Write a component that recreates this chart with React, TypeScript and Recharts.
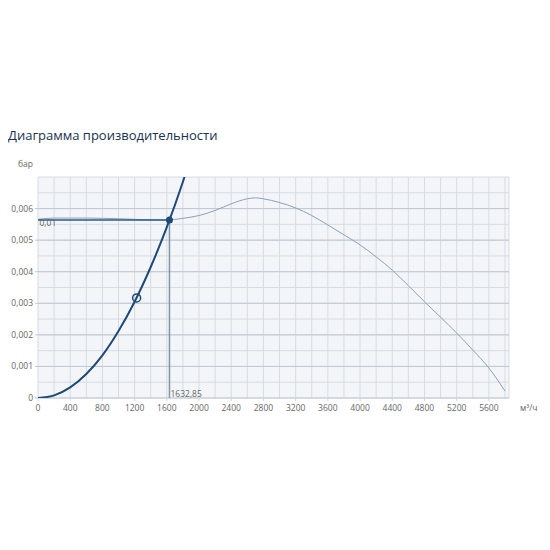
import React from "react";
import {
  ComposedChart,
  Line,
  XAxis,
  YAxis,
  CartesianGrid,
  ReferenceDot,
} from "recharts";

const xTicks = [0, 400, 800, 1200, 1600, 2000, 2400, 2800, 3200, 3600, 4000, 4400, 4800, 5200, 5600];
const yTicks = [0, 0.001, 0.002, 0.003, 0.004, 0.005, 0.006];
const xGrid = [0, 200, 400, 600, 800, 1000, 1200, 1400, 1600, 1800, 2000, 2200, 2400, 2600, 2800, 3000, 3200, 3400, 3600, 3800, 4000, 4200, 4400, 4600, 4800, 5000, 5200, 5400, 5600, 5800, 5850];
const yGrid = [0, 0.0005, 0.001, 0.0015, 0.002, 0.0025, 0.003, 0.0035, 0.004, 0.0045, 0.005, 0.0055, 0.006, 0.0065, 0.007];

const fanFlow = [0, 200, 400, 600, 800, 1000, 1200, 1400, 1600, 1800, 2000, 2200, 2400, 2600, 2700, 2800, 3000, 3200, 3400, 3600, 3800, 4000, 4200, 4400, 4600, 4800, 5000, 5200, 5400, 5600, 5800];
const fanPressure = [0.00566, 0.0057, 0.0057, 0.0057, 0.00569, 0.00568, 0.00566, 0.00564, 0.00564, 0.00569, 0.00578, 0.00594, 0.00615, 0.00631, 0.00634, 0.00631, 0.00619, 0.00602, 0.00578, 0.00548, 0.00517, 0.00485, 0.00447, 0.00405, 0.00356, 0.00305, 0.00256, 0.00206, 0.00152, 0.00095, 0.00022];

const sysFlow = [0, 200, 400, 600, 800, 1000, 1200, 1400, 1600, 1800, 1900];
const sysPressure = [0, 0.0000846, 0.000338, 0.000761, 0.00135, 0.00212, 0.00305, 0.00415, 0.00541, 0.00685, 0.00764];

const workFlow = 1632.85;
const workPressure = 0.00564;
const markFlow = 1225;
const markPressure = 0.00317;

const fanData = fanFlow.map((x, i) => ({ x, y: fanPressure[i] }));
const sysData = sysFlow.map((x, i) => ({ x, y: sysPressure[i] }));
const hLine = [{ x: 0, y: workPressure }, { x: workFlow, y: workPressure }];
const vLine = [{ x: workFlow, y: 0 }, { x: workFlow, y: workPressure }];

const FONT = "'Open Sans', 'Noto Sans', sans-serif";
const fmtY = (v: number) => (v === 0 ? "0" : v.toFixed(3).replace(".", ","));

const X_MAX = 5850;
const Y_MAX = 0.007;

const vGen = (vals: number[]) => (props: any) => {
  const { xAxis, offset } = props || {};
  if (xAxis && typeof xAxis.scale === "function") {
    return vals.map((v) => xAxis.scale(v));
  }
  return vals.map((v) => offset.left + (v / X_MAX) * offset.width);
};
const hGen = (vals: number[]) => (props: any) => {
  const { yAxis, offset } = props || {};
  if (yAxis && typeof yAxis.scale === "function") {
    return vals.map((v) => yAxis.scale(v));
  }
  return vals.map((v) => offset.top + offset.height - (v / Y_MAX) * offset.height);
};

export default function App() {
  return (
    <div style={{ position: "relative", width: 534, height: 534, fontFamily: FONT }}>
      <div
        style={{
          position: "absolute",
          left: 0,
          top: 118,
          fontSize: 13,
          fontWeight: 500,
          lineHeight: "18px",
          color: "#17324f",
          whiteSpace: "nowrap",
        }}
      >
        Диаграмма производительности
      </div>
      <div
        style={{
          position: "absolute",
          left: 0,
          width: 25,
          textAlign: "right",
          top: 150,
          fontSize: 8.5,
          lineHeight: "12px",
          color: "#666",
        }}
      >
        бар
      </div>
      <div
        style={{
          position: "absolute",
          left: 512,
          top: 394,
          fontSize: 8.5,
          lineHeight: "12px",
          color: "#666",
          whiteSpace: "nowrap",
        }}
      >
        м³/ч
      </div>
      <div style={{ position: "absolute", left: 0, top: 142 }}>
        <ComposedChart
          width={534}
          height={280}
          margin={{ top: 27, right: 33, left: 0, bottom: 12 }}
        >
          <CartesianGrid
            fill="#f3f5f8"
            stroke="#d6dce4"
            strokeWidth={1}
            verticalCoordinatesGenerator={vGen(xGrid)}
            horizontalCoordinatesGenerator={hGen(yGrid)}
          />
          <CartesianGrid
            stroke="#bfc8d3"
            strokeWidth={1}
            vertical={false}
            horizontalCoordinatesGenerator={hGen(yTicks)}
          />
          <XAxis
            type="number"
            dataKey="x"
            domain={[0, X_MAX]}
            ticks={xTicks}
            allowDataOverflow
            axisLine={false}
            tickLine={{ stroke: "#d0d7df" }}
            tickSize={3}
            tickMargin={4}
            height={20}
            tick={{ fontSize: 8.5, fill: "#666", fontFamily: FONT }}
          />
          <YAxis
            type="number"
            dataKey="y"
            domain={[0, Y_MAX]}
            ticks={yTicks}
            allowDataOverflow
            axisLine={false}
            tickLine={{ stroke: "#bfc8d3" }}
            tickSize={3}
            tickMargin={2}
            width={30}
            tickFormatter={fmtY}
            tick={{ fontSize: 8.5, fill: "#666", fontFamily: FONT }}
          />
          <Line
            data={fanData}
            dataKey="y"
            type="monotone"
            stroke="#8aa2b8"
            strokeWidth={1}
            dot={false}
            isAnimationActive={false}
          />
          <Line
            data={vLine}
            dataKey="y"
            type="linear"
            stroke="#7d95ad"
            strokeWidth={1.5}
            dot={false}
            isAnimationActive={false}
          />
          <Line
            data={hLine}
            dataKey="y"
            type="linear"
            stroke="#2b5a86"
            strokeWidth={1.5}
            dot={false}
            isAnimationActive={false}
          />
          <Line
            data={sysData}
            dataKey="y"
            type="monotone"
            stroke="#1e4a75"
            strokeWidth={2}
            dot={false}
            isAnimationActive={false}
          />
          <ReferenceDot
            x={workFlow}
            y={workPressure}
            r={3.5}
            fill="#1e4a75"
            stroke="#1e4a75"
            strokeWidth={0}
          />
          <ReferenceDot
            x={markFlow}
            y={markPressure}
            r={4}
            fill="none"
            stroke="#1e4a75"
            strokeWidth={1.5}
          />
          <ReferenceDot
            x={0}
            y={workPressure}
            r={0}
            shape={(p: any) => (
              <text x={p.cx + 1.5} y={p.cy + 6.5} fontSize={8.5} fill="#666" fontFamily={FONT}>
                0,01
              </text>
            )}
          />
          <ReferenceDot
            x={workFlow}
            y={0}
            r={0}
            shape={(p: any) => (
              <text x={p.cx + 1} y={p.cy - 1.5} fontSize={8.5} fill="#666" fontFamily={FONT}>
                1632,85
              </text>
            )}
          />
        </ComposedChart>
      </div>
    </div>
  );
}
